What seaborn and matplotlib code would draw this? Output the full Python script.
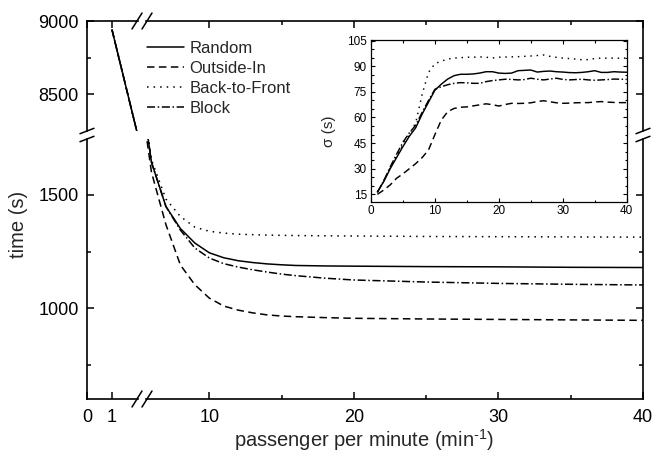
import matplotlib
matplotlib.use("Agg")
import matplotlib.pyplot as plt
import pandas as pd
import seaborn as sns
from matplotlib.lines import Line2D
from matplotlib.ticker import FixedLocator, MultipleLocator, NullLocator

# ---------------- data ----------------
methods = ["Random", "Outside-In", "Back-to-Front", "Block"]

# boarding time (s) against passenger arrival rate (min^-1)
rate = [1, 2, 3, 4, 5, 6, 7, 8, 9, 10, 11, 12, 13, 14, 15, 16, 18, 20, 25, 30, 35, 40]
time_random = [8940, 8240, 5300, 3300, 2090, 1644, 1449, 1352, 1288, 1245, 1223, 1210,
               1202, 1196, 1192, 1189, 1187, 1186, 1184, 1183, 1181, 1180]
time_outside_in = [8940, 8240, 5300, 3300, 2050, 1600, 1369, 1191, 1104, 1045, 1010, 992,
                   980, 971, 966, 963, 959, 956, 953, 951, 949, 947]
time_back_to_front = [8940, 8240, 5300, 3300, 2090, 1655, 1482, 1405, 1358, 1340, 1332, 1327,
                      1325, 1323, 1322, 1321, 1320, 1319, 1317, 1316, 1315, 1314]
time_block = [8940, 8240, 5300, 3300, 2090, 1644, 1449, 1345, 1266, 1222, 1197, 1182,
              1170, 1160, 1151, 1144, 1133, 1125, 1116, 1110, 1106, 1103]

# standard deviation of boarding time (s)
sigma_rate = list(range(1, 41))
sigma_random = [16.5, 22.5, 30, 36.5, 43, 49, 54, 62, 69, 76, 79.5, 82.5, 84.5, 85.3, 85.3,
                85.5, 86, 86.8, 86.8, 86, 85.8, 86, 87.4, 87.6, 87.8, 86.6, 87, 87.2, 86.8,
                86.6, 86.3, 86.2, 86.4, 86.8, 87.4, 86.4, 86.4, 86.8, 86.6, 86.5]
sigma_outside_in = [15, 17.5, 20.5, 24.4, 27, 30, 33, 36.5, 41, 50, 58.5, 63.4, 65.3, 66,
                    66.2, 66.8, 67.4, 68, 67.5, 66.7, 67.6, 68.3, 68.2, 68.3, 68.6, 69.3,
                    69.8, 69.2, 68.6, 68.3, 68.4, 68.6, 68.7, 68.7, 69.1, 69.3, 69, 68.8,
                    68.7, 68.7]
sigma_back_to_front = [16.5, 23, 30.5, 37.5, 44, 50, 57, 73.5, 86.5, 91.5, 93, 94.2, 94.8,
                       95, 95.3, 95.3, 95.5, 95.3, 94.8, 95.3, 95.4, 95.5, 95.6, 95.8, 96,
                       96.3, 96.6, 95.8, 95.2, 94.8, 94.5, 94.2, 93.8, 93.9, 94.5, 94.8,
                       94.7, 94.8, 94.7, 94.8]
sigma_block = [16, 23, 31, 38.5, 45.5, 51, 55.5, 63, 70, 76.5, 78, 79.2, 80, 80.4, 80.3, 80,
               80, 81, 81.6, 82, 82.4, 82.3, 82, 82.2, 83, 82.4, 82, 82.5, 83, 82.3, 82,
               82.2, 82.4, 82, 81.8, 82, 82.2, 82.5, 82.4, 82.3]

time_df = pd.DataFrame({
    "rate": rate * 4,
    "time": time_random + time_outside_in + time_back_to_front + time_block,
    "method": [m for m in methods for _ in rate],
})
sigma_df = pd.DataFrame({
    "rate": sigma_rate * 4,
    "sigma": sigma_random + sigma_outside_in + sigma_back_to_front + sigma_block,
    "method": [m for m in methods for _ in sigma_rate],
})

# line patterns (in units of line width)
dashes = {
    "Random": "",
    "Outside-In": (4.9, 2.9),
    "Back-to-Front": (1.0, 3.3),
    "Block": (5.3, 1.7, 1.0, 1.7),
}

# ---------------- style ----------------
sns.set_theme(style="ticks")
plt.rcParams["font.family"] = ["Liberation Sans", "DejaVu Sans"]
plt.rcParams["mathtext.default"] = "regular"
plt.rcParams["axes.linewidth"] = 1.2

W, H = 657, 469
fig = plt.figure(figsize=(W / 100, H / 100), dpi=100)


def fx(px):
    return px / W


def fy(py):
    return 1 - py / H


# panel edges of the broken main axes (pixels)
X0, XB1, XB2, X1 = 87, 138, 146, 643
Y0, YB1, YB2, Y1 = 21, 131, 139, 399

ax_tl = fig.add_axes([fx(X0), fy(YB1), fx(XB1) - fx(X0), fy(Y0) - fy(YB1)])
ax_tr = fig.add_axes([fx(XB2), fy(YB1), fx(X1) - fx(XB2), fy(Y0) - fy(YB1)])
ax_bl = fig.add_axes([fx(X0), fy(Y1), fx(XB1) - fx(X0), fy(YB2) - fy(Y1)])
ax_br = fig.add_axes([fx(XB2), fy(Y1), fx(X1) - fx(XB2), fy(YB2) - fy(Y1)])

x_left, x_right = (0, 2.04), (5.62, 40)
y_top, y_bottom = (8247, 9000), (600, 1747)

for ax in (ax_tl, ax_tr, ax_bl, ax_br):
    sns.lineplot(data=time_df, x="rate", y="time", style="method", dashes=dashes,
                 style_order=methods, color="black", linewidth=1.1, errorbar=None,
                 legend=False, ax=ax)
    ax.set_xlabel("")
    ax.set_ylabel("")
    ax.set_facecolor("none")
    ax.tick_params(which="both", direction="in", width=1.1, labelsize=13,
                   colors="black", top=False, bottom=False, left=False, right=False,
                   labeltop=False, labelbottom=False, labelleft=False, labelright=False)
    ax.tick_params(which="major", length=4.8)
    ax.tick_params(which="minor", length=2.6)
    for s in ax.spines.values():
        s.set_color("black")

for ax in (ax_tl, ax_bl):
    ax.set_xlim(*x_left)
    ax.spines["right"].set_visible(False)
    ax.xaxis.set_major_locator(FixedLocator([0, 1]))
    ax.xaxis.set_minor_locator(NullLocator())
    ax.tick_params(axis="y", which="both", left=True, labelleft=True, pad=6)
for ax in (ax_tr, ax_br):
    ax.set_xlim(*x_right)
    ax.spines["left"].set_visible(False)
    ax.xaxis.set_major_locator(FixedLocator([10, 20, 30, 40]))
    ax.xaxis.set_minor_locator(FixedLocator([15, 25, 35]))
    ax.tick_params(axis="y", which="both", right=True)
for ax in (ax_tl, ax_tr):
    ax.set_ylim(*y_top)
    ax.spines["bottom"].set_visible(False)
    ax.yaxis.set_major_locator(FixedLocator([8500, 9000]))
    ax.yaxis.set_minor_locator(FixedLocator([8750]))
    ax.tick_params(axis="x", which="both", top=True)
for ax in (ax_bl, ax_br):
    ax.set_ylim(*y_bottom)
    ax.spines["top"].set_visible(False)
    ax.yaxis.set_major_locator(FixedLocator([1000, 1500]))
    ax.yaxis.set_minor_locator(FixedLocator([750, 1250]))
    ax.tick_params(axis="x", which="both", bottom=True, labelbottom=True, pad=7)


# break marks on the spines
def mark(cx, cy, dx, dy):
    fig.add_artist(Line2D([fx(cx - dx), fx(cx + dx)], [fy(cy + dy), fy(cy - dy)],
                          transform=fig.transFigure, color="black", lw=1.1))


for yy in (Y0, Y1):
    mark(XB1 - 1, yy, 5, 8)
    mark(XB2 + 1, yy, 5, 8)
for xx in (X0, X1):
    mark(xx, YB1, 7, 2.7)
    mark(xx, YB2, 7, 2.7)

# axis labels
fig.text(fx(364), fy(440), "passenger per minute (min$^{\u20101}$)", ha="center",
         va="center", fontsize=14.5)
fig.text(fx(18), fy(224), "time (s)", ha="center", va="center", rotation=90,
         fontsize=14.5)

# legend
handles = [Line2D([], [], color="black", lw=1.1,
                  dashes=dashes[m] if dashes[m] else (None, None))
           for m in methods]
ax_br.legend(handles, methods, loc="upper left", frameon=False, fontsize=12,
             bbox_to_anchor=(fx(147), fy(41)), bbox_transform=fig.transFigure,
             borderpad=0, borderaxespad=0, handlelength=2.2, handletextpad=0.35,
             labelspacing=0.3)

# inset: standard deviation
ax_in = fig.add_axes([fx(371), fy(202), fx(626.7) - fx(371), fy(40.3) - fy(202)])
sns.lineplot(data=sigma_df, x="rate", y="sigma", style="method", dashes=dashes,
             style_order=methods, color="black", linewidth=1.05, errorbar=None,
             legend=False, ax=ax_in)
ax_in.set_facecolor("white")
ax_in.set_xlim(0, 40)
ax_in.set_ylim(10.5, 105.2)
ax_in.xaxis.set_major_locator(MultipleLocator(10))
ax_in.xaxis.set_minor_locator(MultipleLocator(5))
ax_in.yaxis.set_major_locator(FixedLocator([15, 30, 45, 60, 75, 90, 105]))
ax_in.yaxis.set_minor_locator(MultipleLocator(5))
ax_in.tick_params(which="both", direction="in", top=True, right=True, width=0.8,
                  labelsize=8.5, colors="black")
ax_in.tick_params(axis="x", which="major", length=3, pad=2)
ax_in.tick_params(axis="y", which="major", length=3, pad=3)
ax_in.tick_params(which="minor", length=1.8)
for s in ax_in.spines.values():
    s.set_linewidth(0.9)
    s.set_color("black")
ax_in.set_xlabel("")
ax_in.set_ylabel("σ (s)", fontsize=11, labelpad=2)
ax_in.yaxis.set_label_coords(-0.135, 0.44)

fig.savefig("out.png", dpi=100, facecolor="white")
